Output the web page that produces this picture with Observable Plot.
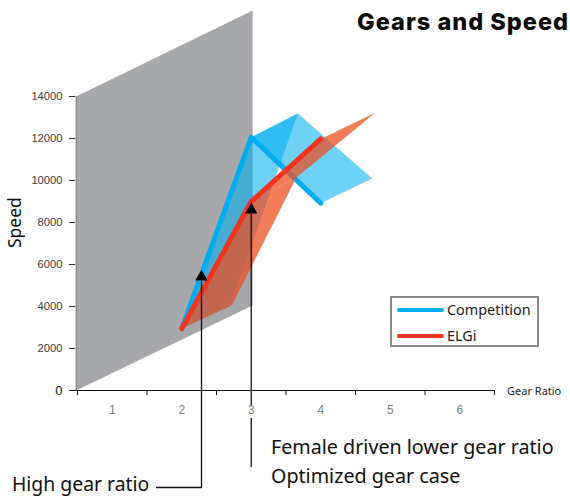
<!DOCTYPE html>
<html>
<head>
<meta charset="utf-8">
<script src="https://cdn.jsdelivr.net/npm/d3@7"></script>
<script src="https://cdn.jsdelivr.net/npm/@observablehq/plot@0.6"></script>
<style>
html,body{margin:0;padding:0;background:#fff;}
#wrap{position:relative;width:570px;height:497px;overflow:hidden;font-family:"Noto Sans",sans-serif;color:#111;}
#wrap svg{position:absolute;left:0;top:0;overflow:visible;}
.t{position:absolute;white-space:nowrap;line-height:1;}
#legend{position:absolute;left:390px;top:296px;width:145px;height:47px;border:2px solid #8a8a8c;background:#fff;}
.key{position:absolute;left:5px;width:47px;height:3.5px;border-radius:2px;}
.lab{position:absolute;left:55px;font-size:14.4px;line-height:1;color:#222;}
</style>
</head>
<body>
<div id="wrap"></div>
<script>
const gearTicks = [1, 2, 3, 4, 5, 6];
const gearEdges = [0.5, 1.5, 2.5, 3.5, 4.5, 5.5, 6.5];
const speedTicks = [2000, 4000, 6000, 8000, 10000, 12000, 14000];

const wallX = [0.48, 0.48, 3.02, 3.02];
const wallY = [0, 14000, 18100, 4050];

const competitionGear = [2, 3, 4];
const competitionSpeed = [2950, 12060, 8920];
const elgiGear = [2, 3, 4];
const elgiSpeed = [2950, 9000, 11980];

const compRibbonAX = [2, 3, 3.67, 2.7];
const compRibbonAY = [2950, 12060, 13190, 4050];
const compRibbonBX = [3, 3.67, 4.74, 4];
const compRibbonBY = [12060, 13190, 10095, 8920];

const elgiRibbonAX = [2, 3, 3.65, 2.72];
const elgiRibbonAY = [2950, 9000, 10140, 4050];
const elgiRibbonBX = [3, 4, 4.79, 3.65];
const elgiRibbonBY = [9000, 11980, 13240, 10140];

const leaderHighX = [1.637, 2.284, 2.284];
const leaderHighY = [-4619, -4619, 5238];
const leaderLowX = [3, 3, 3, 3];
const leaderLowY = [8380, -680, -1330, -3619];
const leaderLowPart = ["a", "a", "b", "b"];
const headX = [2.284, 3];
const headY = [5405, 8595];

const pts = (xs, ys) => xs.map((x, i) => ({x, y: ys[i]}));
const poly = (xs, ys, fill, fillOpacity) =>
  Plot.line(pts(xs, ys), {x: "x", y: "y", curve: "linear-closed", fill, fillOpacity, stroke: "none"});
const BLUE = "#00aeef", RED = "#f1341f", ORANGE = "#ee4f22";

const chart = Plot.plot({
  width: 570, height: 497,
  marginLeft: 77, marginRight: 76, marginTop: 96, marginBottom: 107,
  style: {background: "transparent"},
  x: {domain: [0.5, 6.5]},
  y: {domain: [0, 14000]},
  marks: [
    poly(wallX, wallY, "#a7a8ab", 1),
    Plot.ruleX([0.48], {y1: 0, y2: 14000, stroke: "#77787b", strokeWidth: 1}),
    poly(compRibbonAX, compRibbonAY, BLUE, 0.57),
    poly(compRibbonBX, compRibbonBY, BLUE, 0.57),
    Plot.line(pts(competitionGear, competitionSpeed), {x: "x", y: "y", stroke: BLUE, strokeWidth: 5, strokeLinecap: "round", strokeLinejoin: "round"}),
    poly(elgiRibbonAX, elgiRibbonAY, ORANGE, 0.74),
    poly(elgiRibbonBX, elgiRibbonBY, ORANGE, 0.74),
    Plot.line(pts(elgiGear, elgiSpeed), {x: "x", y: "y", stroke: RED, strokeWidth: 5, strokeLinecap: "round", strokeLinejoin: "round"}),
    Plot.ruleY([0], {stroke: "#111", strokeWidth: 1.2, x1: 0.46, x2: 6.5}),
    Plot.axisX({ticks: gearEdges, tickSize: 5, tickFormat: () => "", stroke: "#111", label: null}),
    Plot.axisX({ticks: gearTicks, tickSize: 0, tickPadding: 15, fontSize: 12, fontFamily: "Liberation Sans", fill: "#808080", label: null, tickFormat: d => String(d)}),
    Plot.axisY({ticks: speedTicks, tickSize: 6, tickPadding: 7, dx: -2, fontSize: 11.2, fontFamily: "Liberation Sans", fill: "#3a3a3a", stroke: "#333", label: null, tickFormat: d => String(d)}),
    Plot.axisY({ticks: [0], tickSize: 6, tickPadding: 7, dx: -2, fontSize: 13, fontFamily: "Liberation Sans", fill: "#111", stroke: "#111", label: null, tickFormat: d => String(d)}),
    Plot.line(pts(leaderHighX, leaderHighY), {x: "x", y: "y", stroke: "#111", strokeWidth: 1.3}),
    Plot.line(leaderLowX.map((x, i) => ({x, y: leaderLowY[i], part: leaderLowPart[i]})), {x: "x", y: "y", z: "part", stroke: "#111", strokeWidth: 1.3}),
    Plot.dot(pts(headX, headY), {x: "x", y: "y", symbol: "triangle", r: 4.6, fill: "#000", stroke: "none"})
  ]
});

const wrap = document.getElementById("wrap");
wrap.appendChild(chart);
wrap.insertAdjacentHTML("beforeend", `
  <div class="t" style="right:1px;top:10px;font-size:23.5px;letter-spacing:1px;font-weight:800;font-family:'Inter','Noto Sans';color:#0a0a0a">Gears and Speed</div>
  <div class="t" style="left:6px;top:232px;font-size:17.5px;transform-origin:0 0;transform:rotate(-90deg) translateX(-16px);color:#111">Speed</div>
  <div class="t" style="left:507px;top:385px;font-size:11px;color:#222">Gear Ratio</div>
  <div class="t" style="left:271px;top:437px;font-size:19.7px;color:#111">Female driven lower gear ratio</div>
  <div class="t" style="left:271px;top:466px;font-size:19.7px;color:#111">Optimized gear case</div>
  <div class="t" style="left:12px;top:474px;font-size:19.4px;color:#111">High gear ratio</div>
  <div id="legend">
    <div class="key" style="top:10px;background:${BLUE}"></div>
    <div class="lab" style="top:5px">Competition</div>
    <div class="key" style="top:36px;background:${RED}"></div>
    <div class="lab" style="top:31px">ELGi</div>
  </div>`);
</script>
</body>
</html>
